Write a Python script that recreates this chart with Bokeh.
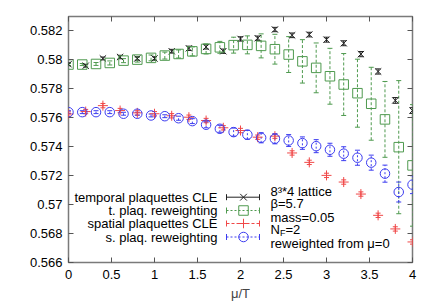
from bokeh.plotting import figure
from bokeh.models import (ColumnDataSource, Whisker, TeeHead, FixedTicker,
                          CustomJSTickFormatter, LinearAxis, Range1d)
from bokeh.core.properties import value
from bokeh.embed import file_html
from bokeh.resources import INLINE

# ---------------- data ----------------
mu_cle = [0.0, 0.2, 0.4, 0.6, 0.8, 1.0, 1.2, 1.4, 1.6, 1.8, 2.0,
          2.2, 2.4, 2.6, 2.8, 3.0, 3.2, 3.4, 3.6, 3.8, 4.0]
mu_rw = [0.0, 0.16, 0.32, 0.48, 0.64, 0.8, 0.96, 1.12, 1.28, 1.44, 1.6, 1.76, 1.92,
         2.08, 2.24, 2.4, 2.56, 2.72, 2.88, 3.04, 3.2, 3.36, 3.52, 3.68, 3.84, 4.0]

temporal_cle = [0.5797, 0.5796, 0.5801, 0.5802, 0.5801, 0.5801, 0.5806, 0.5808, 0.5809, 0.5806, 0.58145,
                0.5815, 0.5821, 0.5817, 0.58175, 0.5814, 0.58115, 0.5804, 0.5792, 0.5772, 0.5765]
temporal_cle_err = [0.0001, 0.0001, 0.0001, 0.00012, 0.00012, 0.00012, 0.00013, 0.00015, 0.00015, 0.00015, 0.00015,
                    0.00015, 0.00015, 0.00016, 0.00016, 0.00017, 0.00017, 0.00018, 0.00018, 0.0002, 0.0002]

temporal_rw = [0.57968, 0.57968, 0.57972, 0.57979, 0.57995, 0.58002, 0.58014, 0.5803, 0.58041, 0.58059,
               0.58076, 0.58087, 0.58102, 0.58104, 0.58097, 0.58074, 0.58037, 0.5799, 0.57945, 0.57887,
               0.5783, 0.5777, 0.57697, 0.57589, 0.57397, 0.57271]
temporal_rw_err = [0.00007, 0.00007, 0.0001, 0.00014, 0.00014, 0.00017, 0.0002, 0.00024, 0.00028, 0.00031,
                   0.00035, 0.00041, 0.00055, 0.00062, 0.00083, 0.00103, 0.00124, 0.0015, 0.00172, 0.00193,
                   0.00214, 0.00235, 0.00252, 0.00262, 0.0046, 0.0042]

spatial_cle = [0.57626, 0.57643, 0.57684, 0.5765, 0.57634, 0.57628, 0.57614, 0.57604, 0.57581, 0.57531, 0.57512,
               0.57466, 0.57473, 0.57357, 0.57292, 0.57202, 0.57156, 0.57073, 0.56926, 0.56832, 0.56742]
spatial_cle_err = [0.00015] * 21

spatial_rw = [0.57639, 0.57639, 0.57639, 0.57639, 0.57628, 0.57628, 0.57616, 0.57611, 0.57597, 0.57577,
              0.57552, 0.57524, 0.57501, 0.57483, 0.57462, 0.57455, 0.57443, 0.57425, 0.57404, 0.57379,
              0.57352, 0.57324, 0.5729, 0.57214, 0.57087, 0.57138]
spatial_rw_err = [0.0001, 0.0001, 0.0001, 0.0001, 0.0001, 0.0001, 0.0001, 0.0001, 0.00014, 0.00017,
                  0.00021, 0.00024, 0.00028, 0.00031, 0.00035, 0.00035, 0.00041, 0.00043, 0.00045, 0.00045,
                  0.00048, 0.00052, 0.00052, 0.00059, 0.00069, 0.00062]

x_ticks = [0, 0.5, 1, 1.5, 2, 2.5, 3, 3.5, 4]
y_ticks = [0.566, 0.568, 0.57, 0.572, 0.574, 0.576, 0.578, 0.58, 0.582]

series_labels = ["temporal plaquettes CLE", "t. plaq. reweighting",
                 "spatial plaquettes CLE", "s. plaq. reweighting"]
info_lines = ["8\u00b3*4 lattice", "\u03b2=5.7", "mass=0.05", "N", "reweighted from \u03bc=0"]
x_label = "\u03bc/T"

# ---------------- styling ----------------
FONT = "Liberation Sans"
FS = "13px"
BLACK = "#222222"
GREEN = "#4f9a4f"
RED = "#f04848"
BLUE = "#3c3cf0"
FRAME = "#7a7a7a"

X0, X1 = 0.0, 4.0
Y0, Y1 = 0.566, 0.583
FW, FH = 344, 246
FL, FT = 68, 16  # frame left/top in window pixels


def dx(px):
    return X0 + (px - FL) / FW * (X1 - X0)


def dy(py):
    return Y0 + (FT + FH - py) / FH * (Y1 - Y0)


p = figure(frame_width=FW, frame_height=FH,
           x_range=Range1d(X0, X1), y_range=Range1d(Y0, Y1),
           output_backend="svg", toolbar_location=None,
           min_border_left=68, min_border_right=8, min_border_top=16, min_border_bottom=30)
p.grid.visible = False
p.outline_line_color = FRAME
p.outline_line_width = 1.5
p.background_fill_color = "white"
p.border_fill_color = "white"

fmt = CustomJSTickFormatter(code="return String(Number(tick.toFixed(3)));")
empty = CustomJSTickFormatter(code="return '';")

for ax, ticks in ((p.xaxis[0], x_ticks), (p.yaxis[0], y_ticks)):
    ax.ticker = FixedTicker(ticks=ticks)
    ax.formatter = fmt
    ax.axis_line_color = None
    ax.major_tick_in = 5
    ax.major_tick_out = 0
    ax.major_tick_line_color = "#555555"
    ax.minor_tick_line_color = None
    ax.major_label_text_font = FONT
    ax.major_label_text_font_size = "13px"
    ax.major_label_text_color = "black"

p.yaxis[0].major_label_standoff = 6
p.xaxis[0].major_label_standoff = 7
p.xaxis[0].axis_label = x_label
p.xaxis[0].axis_label_text_font = FONT
p.xaxis[0].axis_label_text_font_size = "13px"
p.xaxis[0].axis_label_text_font_style = "normal"
p.xaxis[0].axis_label_standoff = 4

for loc, ticks in (("above", x_ticks), ("right", y_ticks)):
    ax = LinearAxis(ticker=FixedTicker(ticks=ticks), formatter=empty,
                    axis_line_color=None, major_tick_in=5, major_tick_out=0,
                    major_tick_line_color="#555555", minor_tick_line_color=None,
                    major_label_standoff=0, major_label_text_font_size="1px")
    p.add_layout(ax, loc)


def errbars(xs, ys, es, color, dash):
    src = ColumnDataSource(dict(x=xs, lower=[y - e for y, e in zip(ys, es)],
                                upper=[y + e for y, e in zip(ys, es)]))
    w = Whisker(source=src, base="x", lower="lower", upper="upper", dimension="height",
                line_color=color, line_width=1, line_dash=dash,
                upper_head=TeeHead(size=5, line_color=color, line_width=1),
                lower_head=TeeHead(size=5, line_color=color, line_width=1))
    p.add_layout(w)


# temporal CLE
errbars(mu_cle, temporal_cle, temporal_cle_err, BLACK, "solid")
p.scatter(mu_cle, temporal_cle, marker="x", size=9, line_color=BLACK, line_width=1)
# temporal reweighting
errbars(mu_rw, temporal_rw, temporal_rw_err, GREEN, "3 2")
p.scatter(mu_rw, temporal_rw, marker="square", size=9.5, fill_color=None, line_color=GREEN, line_width=1)
# spatial CLE
errbars(mu_cle, spatial_cle, spatial_cle_err, RED, "solid")
p.scatter(mu_cle, spatial_cle, marker="cross", size=10, line_color=RED, line_width=1)
# spatial reweighting
errbars(mu_rw, spatial_rw, spatial_rw_err, BLUE, "2 2")
p.scatter(mu_rw, spatial_rw, marker="circle", size=9.5, fill_color=None, line_color=BLUE, line_width=1)

# ---------------- legend (gnuplot style) ----------------
rows = [196.7, 210.0, 223.0, 236.5]
styles = [(BLACK, "solid", "x"), (GREEN, "2 2", "square"),
          (RED, "3 2", "cross"), (BLUE, "2 2", "circle")]
p.text(x=[dx(217)] * 4, y=[dy(r) for r in rows], text=series_labels,
       text_align="right", text_baseline="middle", text_font=value(FONT),
       text_font_size=FS, text_color="black")
for r, (c, d, m) in zip(rows, styles):
    p.segment(x0=[dx(226)], y0=[dy(r)], x1=[dx(259)], y1=[dy(r)], line_color=c, line_dash=d, line_width=1)
    p.segment(x0=[dx(226), dx(259)], y0=[dy(r - 3)] * 2, x1=[dx(226), dx(259)], y1=[dy(r + 3)] * 2,
              line_color=c, line_width=1)
    p.scatter([dx(243)], [dy(r)], marker=m, size=9.5, fill_color=None, line_color=c, line_width=1)

info_rows = [190.7, 203.3, 216.7, 229.3, 242.7]
p.text(x=[dx(270)] * 5, y=[dy(r) for r in info_rows], text=info_lines,
       text_align="left", text_baseline="middle", text_font=value(FONT),
       text_font_size=FS, text_color="black")
# subscript F and "=2" of N_F=2
p.text(x=[dx(279.4)], y=[dy(info_rows[3] + 3.5)], text=["F"], text_align="left",
       text_baseline="middle", text_font=value(FONT), text_font_size="9px", text_color="black")
p.text(x=[dx(285.0)], y=[dy(info_rows[3])], text=["=2"], text_align="left",
       text_baseline="middle", text_font=value(FONT), text_font_size=FS, text_color="black")

open("out.html", "w").write(file_html(p, INLINE))
